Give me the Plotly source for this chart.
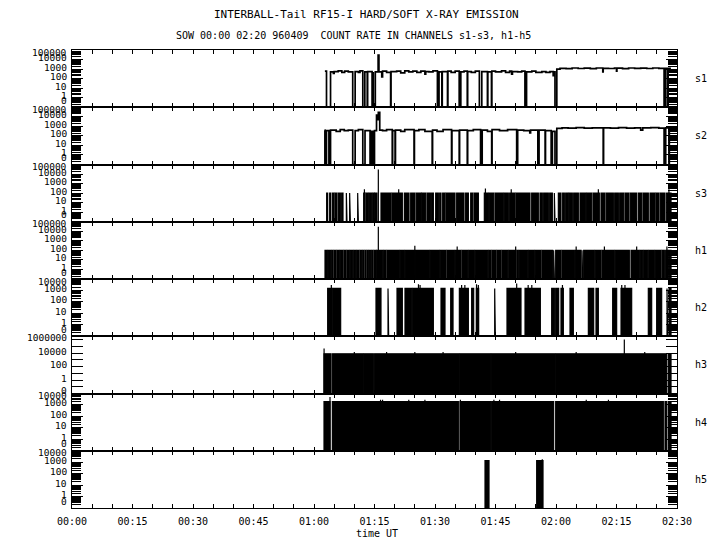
import math
import plotly.graph_objects as go
from plotly.subplots import make_subplots

FONT = "DejaVu Sans Mono"

# ---------------- data (time in minutes after 00:00 UT, counts) ----------------
channels = ["s1", "s2", "s3", "h1", "h2", "h3", "h4", "h5"]

time_label_vals = [0, 15, 30, 45, 60, 75, 90, 105, 120, 135, 150]
time_labels = ["00:00", "00:15", "00:30", "00:45", "01:00", "01:15",
               "01:30", "01:45", "02:00", "02:15", "02:30"]

# y axis extent in decades (count 0 is drawn at the bottom edge)
y_lo = [-1, -1, -1, -1, -1, -2, -1, -1]
y_hi = [5, 5, 5, 5, 4, 6.5, 4, 4]

y_label_vals = {
    "s1": [0, 1, 10, 100, 1000, 10000, 100000],
    "s2": [0, 1, 10, 100, 1000, 10000, 100000],
    "s3": [0, 1, 10, 100, 1000, 10000, 100000],
    "h1": [0, 1, 10, 100, 1000, 10000, 100000],
    "h2": [0, 1, 10, 100, 1000, 10000],
    "h3": [0, 1, 100, 10000, 1000000],
    "h4": [0, 1, 10, 100, 1000, 10000],
    "h5": [0, 1, 10, 100, 1000, 10000],
}

# s1: step series
s1_t = [62.7, 63.1, 64.1, 64.8, 65.0, 66.0, 66.9, 67.6, 68.5, 69.6,
        70.2, 71.0, 71.4, 72.1, 72.6, 73.2, 73.3, 74.4, 74.5, 74.7,
        75.2, 75.9, 76.1, 76.8, 77.0, 78.0, 79.0, 79.1, 80.5, 81.5,
        82.5, 83.5, 84.5, 85.5, 86.5, 87.5, 87.7, 88.5, 89.5, 90.6,
        91.0, 91.7, 91.8, 93.1, 93.2, 94.0, 95.0, 96.0, 96.4, 97.2,
        98.0, 98.1, 99.0, 100.0, 101.0, 101.6, 103.0, 103.1, 104.0, 104.1,
        105.0, 106.5, 107.5, 108.5, 109.0, 109.2, 110.5, 111.5, 112.3, 112.7,
        114.0, 115.0, 116.5, 117.5, 118.5, 119.3, 119.5, 119.75, 120.2, 121.0,
        122.5, 124.0, 125.5, 127.0, 128.5, 130.0, 131.6, 131.7, 133.0, 134.5,
        135.0, 135.1, 136.5, 138.0, 139.5, 141.0, 142.5, 144.0, 145.5, 146.8,
        147.2, 147.7, 147.8, 148.5]
s1_v = [600, 0, 500, 350, 550, 650, 450, 600, 500, 0,
        550, 450, 650, 0, 500, 0, 550, 0, 400, 0,
        500, 30000, 500, 150, 600, 450, 0, 550, 600, 400,
        650, 500, 600, 450, 600, 300, 550, 500, 650, 0,
        500, 0, 550, 0, 600, 450, 600, 0, 500, 600,
        0, 550, 450, 600, 0, 550, 0, 500, 0, 600,
        500, 650, 450, 600, 300, 550, 500, 600, 0, 500,
        600, 450, 550, 450, 550, 200, 500, 0, 1000, 1200,
        1100, 1300, 1150, 1250, 1100, 1300, 500, 1200, 1150, 1300,
        600, 1250, 1100, 1300, 1200, 1250, 1150, 1300, 1200, 0,
        1200, 0, 1200, 1200]

# s2: step series
s2_t = [62.6, 62.7, 63.1, 63.7, 64.1, 65.5, 66.5, 67.5, 68.5, 69.6,
        70.2, 71.0, 72.1, 72.65, 73.9, 74.0, 74.1, 74.3, 74.4, 74.6,
        74.7, 75.0, 75.5, 75.8, 75.95, 76.3, 77.0, 78.0, 79.4, 79.5,
        80.1, 80.2, 81.5, 82.5, 84.8, 84.9, 86.0, 87.5, 89.3, 89.4,
        90.5, 92.0, 94.1, 94.2, 96.0, 96.1, 98.0, 98.1, 99.5, 101.3,
        101.7, 103.0, 104.05, 104.15, 106.0, 108.0, 110.25, 110.5, 112.0, 113.5,
        113.7, 115.5, 115.8, 117.3, 117.4, 118.8, 119.1, 119.75, 120.2, 121.5,
        123.0, 125.0, 127.0, 129.0, 131.7, 131.8, 133.5, 135.5, 137.5, 139.5,
        141.0, 141.5, 143.5, 145.5, 146.8, 147.2, 148.0, 148.1, 148.5]
s2_v = [400, 0, 350, 0, 400, 300, 450, 350, 400, 0,
        350, 450, 0, 350, 0, 300, 0, 300, 0, 300,
        0, 350, 15000, 5000, 30000, 400, 350, 450, 0, 350,
        0, 400, 300, 450, 0, 350, 450, 300, 0, 400,
        300, 450, 0, 350, 0, 400, 0, 350, 450, 0,
        400, 300, 0, 450, 350, 450, 0, 400, 350, 200,
        400, 0, 400, 0, 350, 0, 300, 0, 600, 700,
        650, 750, 650, 700, 0, 700, 650, 750, 650, 700,
        400, 700, 750, 650, 0, 700, 0, 700, 700]

# s3: intervals with counts (between them the rate is 0)
s3_level = 100
s3_on_start = [63.14, 63.89, 64.55, 65.21, 66.04, 66.86, 68.02, 68.84, 70.83, 72.32,
               72.9, 73.72, 74.55, 75.13, 76.61, 79.34, 82.4, 83.97, 85.37, 86.7,
               88.02, 89.17, 90.17, 91.16, 91.9, 92.73, 95.37, 97.6, 98.85, 99.67,
               102.23, 103.47, 104.88, 107.19, 108.51, 110.08, 113.97, 116.03, 116.94, 118.43,
               119.59, 120.58, 121.65, 122.4, 123.31, 124.38, 125.95, 127.6, 129.18, 131.16,
               132.48, 134.55, 135.79, 137.11, 138.43, 140.41, 141.57, 143.31, 144.79, 145.87,
               147.44]
s3_on_end = [63.39, 64.13, 64.96, 65.7, 66.53, 67.19, 68.18, 69.01, 70.99, 72.65,
             73.47, 74.3, 74.96, 75.62, 79.09, 81.9, 83.56, 85.04, 86.53, 87.69,
             88.85, 89.59, 90.83, 91.49, 92.48, 94.96, 97.19, 98.27, 99.34, 100.75,
             103.23, 104.55, 106.94, 108.18, 109.84, 113.55, 115.62, 116.61, 118.1, 119.09,
             119.75, 121.24, 122.07, 123.06, 124.05, 125.54, 127.36, 128.85, 130.74, 132.15,
             134.22, 135.46, 136.78, 138.1, 140.0, 141.24, 142.89, 144.55, 145.54, 147.03,
             148.52]
s3_spike_t = [72.5, 75.95, 81.0, 102.5, 108.9, 130.5, 148.0]
s3_spike_v = [250, 30000, 250, 300, 250, 250, 250]

# h1
h1_level = 100
h1_on_start = [62.73, 63.56, 64.38, 64.96, 65.7, 66.53, 67.44, 68.18, 69.01, 69.84,
               70.58, 71.41, 72.07, 72.65, 73.14, 73.72, 74.3, 74.88, 75.54, 77.27,
               78.1, 81.41, 82.65, 85.13, 88.85, 91.32, 92.98, 95.04, 96.7, 98.35,
               100.0, 103.31, 104.13, 105.37, 106.61, 108.27, 110.33, 110.91, 113.22, 114.88,
               116.53, 119.42, 119.92, 121.49, 124.79, 126.45, 126.86, 129.75, 131.41, 134.71,
               138.6, 140.91, 141.74, 142.98, 144.63, 146.29, 147.19, 148.1]
h1_on_end = [63.31, 64.13, 64.71, 65.46, 66.28, 67.19, 67.94, 68.76, 69.59, 70.33,
             71.16, 71.82, 72.4, 72.9, 73.47, 74.05, 74.63, 75.37, 77.03, 77.85,
             81.16, 82.4, 84.88, 88.6, 91.08, 92.73, 94.8, 96.45, 98.1, 99.75,
             103.06, 103.89, 105.13, 106.36, 108.02, 110.08, 110.66, 112.98, 114.63, 116.28,
             119.17, 119.59, 121.24, 124.55, 126.2, 126.61, 129.5, 131.16, 134.46, 138.18,
             140.66, 141.49, 142.73, 144.38, 146.04, 146.86, 147.85, 148.52]
h1_spike_t = [75.95, 85.0, 95.5, 110.0, 125.0, 132.0, 140.0, 147.5]
h1_spike_v = [30000, 300, 250, 250, 250, 250, 250, 250]

# h2
h2_level = 1500
h2_on_start = [63.39, 64.63, 75.37, 78.35, 80.58, 82.56, 84.46, 91.49, 93.89, 96.04,
               99.09, 100.25, 104.8, 107.85, 112.32, 118.93, 119.92, 121.24, 123.47, 128.02,
               129.92, 134.05, 136.12, 142.89, 144.96, 147.52, 148.02]
h2_on_end = [64.38, 66.61, 76.61, 78.51, 81.9, 84.22, 89.59, 92.48, 94.47, 98.27,
             99.59, 100.83, 104.96, 111.32, 116.12, 119.59, 120.66, 121.82, 124.3, 129.34,
             130.5, 135.04, 138.76, 143.72, 146.2, 147.69, 148.52]
h2_spike_t = [64.3, 85.9, 86.3, 96.6, 97.4, 100.3, 100.75, 110.25, 113.1, 114.0, 121.6, 136.3, 137.1]
h2_spike_v = [3000, 3500, 3000, 3000, 3000, 3500, 3000, 4000, 3000, 3000, 3000, 3000, 3000]

# h3
h3_level = 8000
h3_on_start = [62.48, 64.55, 72.4, 74.96, 96.12, 103.97, 119.92, 147.85]
h3_on_end = [64.22, 72.23, 74.71, 95.95, 103.8, 119.75, 147.44, 148.52]
h3_spike_t = [62.5, 70.0, 78.0, 85.0, 92.0, 110.0, 125.0, 136.94, 142.0]
h3_spike_v = [50000, 15000, 15000, 15000, 14000, 15000, 15000, 1000000, 15000]

# h4
h4_level = 2000
h4_on_start = [62.48, 64.55, 96.2, 104.05, 119.92, 147.03, 147.85]
h4_on_end = [63.97, 95.79, 103.8, 119.42, 146.61, 147.44, 148.52]
h4_spike_t = [63.97, 76.5, 77.0, 83.5, 87.5, 96.3, 104.6, 106.0, 127.5, 133.0]
h4_spike_v = [5000, 2800, 2800, 2800, 2800, 2800, 2800, 2800, 2800, 2800]

# h5
h5_level = 1400
h5_on_start = [102.4, 115.21]
h5_on_end = [103.39, 116.78]
h5_spike_t = [116.6]
h5_spike_v = [1800]

# ---------------- figure ----------------
fig = make_subplots(rows=8, cols=1, shared_xaxes=True, vertical_spacing=0)


def floor_of(i):
    return 10 ** y_lo[i]


def step_trace(t, v, fl):
    y = [fl if val == 0 else val for val in v]
    return go.Scatter(x=t, y=y, mode="lines",
                      line=dict(color="black", width=1.7, shape="hv"),
                      hoverinfo="skip")


def block_trace(starts, ends, level, fl):
    xs, ys = [], []
    for a, b in zip(starts, ends):
        xs += [a, a, b, b, None]
        ys += [fl, level, level, fl, None]
    return go.Scatter(x=xs, y=ys, mode="lines", fill="toself",
                      fillcolor="black", line=dict(color="black", width=1.2),
                      connectgaps=False, hoverinfo="skip")


def spike_trace(ts, vs, fl):
    xs, ys = [], []
    for a, val in zip(ts, vs):
        xs += [a, a, None]
        ys += [fl, val, None]
    return go.Scatter(x=xs, y=ys, mode="lines",
                      line=dict(color="black", width=1.2), hoverinfo="skip")


fig.add_trace(step_trace(s1_t, s1_v, floor_of(0)), row=1, col=1)
fig.add_trace(step_trace(s2_t, s2_v, floor_of(1)), row=2, col=1)

blocks = [
    (2, s3_on_start, s3_on_end, s3_level, s3_spike_t, s3_spike_v),
    (3, h1_on_start, h1_on_end, h1_level, h1_spike_t, h1_spike_v),
    (4, h2_on_start, h2_on_end, h2_level, h2_spike_t, h2_spike_v),
    (5, h3_on_start, h3_on_end, h3_level, h3_spike_t, h3_spike_v),
    (6, h4_on_start, h4_on_end, h4_level, h4_spike_t, h4_spike_v),
    (7, h5_on_start, h5_on_end, h5_level, h5_spike_t, h5_spike_v),
]
for i, st, en, lvl, spt, spv in blocks:
    fl = floor_of(i)
    fig.add_trace(block_trace(st, en, lvl, fl), row=i + 1, col=1)
    fig.add_trace(spike_trace(spt, spv, fl), row=i + 1, col=1)

annotations = []
for i, ch in enumerate(channels):
    n = "" if i == 0 else str(i + 1)
    lo, hi = y_lo[i], y_hi[i]
    decades = list(range(math.ceil(lo), math.floor(hi) + 1))
    major = [10 ** d for d in decades]
    if ch == "h3":
        minor = []
    else:
        minor = [k * 10 ** d for d in range(math.floor(lo), math.ceil(hi)) for k in range(2, 10)]
    fig.layout["yaxis" + n].update(
        type="log", range=[lo, hi], tickvals=major, ticks="inside", ticklen=11,
        tickwidth=1, tickcolor="black", showticklabels=False, showline=True,
        linecolor="black", linewidth=1, mirror="ticks", showgrid=False,
        zeroline=False, fixedrange=True,
        minor=dict(tickmode="array", tickvals=minor, ticks="inside", ticklen=9,
                   tickwidth=1, tickcolor="black", showgrid=False),
    )
    fig.layout["xaxis" + n].update(
        range=[0, 150], tickvals=time_label_vals,
        ticktext=time_labels, ticks="inside", ticklen=4, tickwidth=1,
        tickcolor="black", showline=True, linecolor="black", linewidth=1,
        mirror="ticks", showgrid=False, zeroline=False, ticklabelstandoff=4,
        showticklabels=(i == 7), tickfont=dict(family=FONT, size=10, color="black"),
        minor=dict(dtick=5, tick0=0, ticks="inside", ticklen=4, tickwidth=1,
                   tickcolor="black", showgrid=False),
    )
    # y tick labels
    for val in y_label_vals[ch]:
        yv = lo if val == 0 else math.log10(val)
        if val == 0:
            ys = 3 if ch == "h3" else 7
        elif abs(yv - hi) < 1e-9:
            ys = -2
        else:
            ys = 2
        annotations.append(dict(
            xref="paper", x=0, xanchor="right", xshift=-3,
            yref="y" + n, y=yv, yanchor="middle", yshift=ys,
            text="0" if val == 0 else str(val), showarrow=False,
            font=dict(family=FONT, size=9.5, color="black"),
        ))
    # channel name on the right
    annotations.append(dict(
        xref="paper", x=1, xanchor="left", xshift=16,
        yref="y" + n + " domain", y=0.5, yanchor="middle",
        text=ch, showarrow=False, font=dict(family=FONT, size=10, color="black"),
    ))

annotations += [
    dict(xref="paper", yref="paper", x=0.4876, y=1.0786, xanchor="center", yanchor="middle",
         text="INTERBALL-Tail RF15-I HARD/SOFT X-RAY EMISSION", showarrow=False,
         font=dict(family=FONT, size=11, color="black")),
    dict(xref="paper", yref="paper", x=0.4645, y=1.0306, xanchor="center", yanchor="middle",
         text="SOW 00:00 02:20 960409  COUNT RATE IN CHANNELS s1-s3, h1-h5", showarrow=False,
         font=dict(family=FONT, size=10, color="black")),
    dict(xref="paper", yref="paper", x=0.504, y=-0.0546, xanchor="center", yanchor="middle",
         text="time UT", showarrow=False, font=dict(family=FONT, size=10, color="black")),
]

# the page adds an 8 px margin round the figure, so the figure is 16 px smaller
fig.update_layout(
    width=704, height=534, autosize=False,
    margin=dict(l=64, r=35, t=42, b=34),
    showlegend=False, plot_bgcolor="white", paper_bgcolor="white",
    annotations=annotations,
    font=dict(family=FONT, size=10, color="black"),
)

fig.write_html("out.html")
